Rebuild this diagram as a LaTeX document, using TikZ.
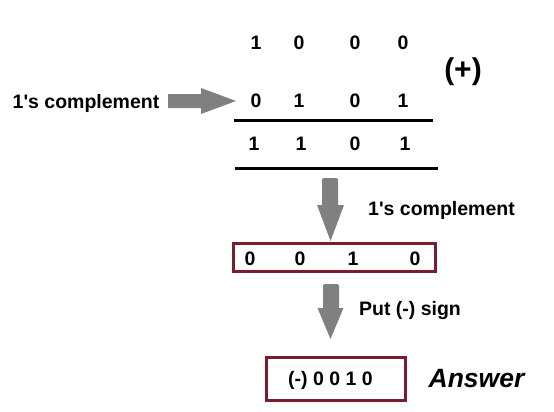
\documentclass[tikz,border=0pt]{standalone}
\usepackage{fontspec}
\setmainfont{Liberation Sans}[Ligatures=TeXOff]
\definecolor{arrowgray}{RGB}{128,128,128}
\definecolor{boxred}{RGB}{122,28,45}
\begin{document}
\begin{tikzpicture}[x=1pt,y=-1pt,
  txt/.style={inner sep=0pt,anchor=base,font=\fontsize{19.5}{22}\bfseries\selectfont},
  dig/.style={txt},
  bigarrow/.style={fill=arrowgray,draw=none},
  redbox/.style={draw=boxred,line width=3pt,inner sep=0pt},
  rule/.style={line width=3pt,black}]
\useasboundingbox (0,0) rectangle (554,412);
% rows of digits
\foreach \n/\x/\d in {a1/256/1,a2/299/0,a3/355/0,a4/403/0}
  \node[dig] (\n) at (\x,49) {\d};
\foreach \n/\x/\d in {b1/256/0,b2/299/1,b3/355/0,b4/403/1}
  \node[dig] (\n) at (\x,107) {\d};
\foreach \n/\x/\d in {c1/254/1,c2/301/1,c3/355/0,c4/405/1}
  \node[dig] (\n) at (\x,150) {\d};
\node[txt,font=\fontsize{30}{34}\bfseries\selectfont] (plus) at (463,80) {(+)};
% rules
\coordinate (l1a) at (234,120); \coordinate (l1b) at (433,120);
\coordinate (l2a) at (235,168); \coordinate (l2b) at (438,168);
\draw[rule] (l1a) -- (l1b);
\draw[rule] (l2a) -- (l2b);
% left label and arrow
\node[txt] (lc) at (86,108) {1's complement};
\fill[bigarrow] (168,94) -- (201,94) -- (201,88) -- (236,101) -- (201,114) -- (201,108) -- (168,108) -- cycle;
% arrow 1
\fill[bigarrow] (322,180) arc (180:270:2) -- (336,178) arc (270:360:2) -- (338,205) -- (344,205) -- (330.5,241) -- (317,205) -- (322,205) -- cycle;
\node[txt] (rc) at (441.5,215) {1's complement};
% box 1
\node[redbox,minimum width=202pt,minimum height=28pt] (box1) at (334.5,257.5) {};
\foreach \n/\x/\d in {d1/250/0,d2/300/0,d3/353/1,d4/415/0}
  \node[dig] (\n) at (\x,265) {\d};
% arrow 2
\fill[bigarrow] (323,286) arc (180:270:2) -- (337,284) arc (270:360:2) -- (339,308) -- (343.5,308) -- (330.5,339) -- (317.5,308) -- (323,308) -- cycle;
\node[txt] (put) at (410,315) {Put (-) sign};
% box 2
\node[redbox,minimum width=139pt,minimum height=43pt] (box2) at (336,379) {};
\node[txt] (ans) at (330.5,385) {(-) 0 0 1 0};
\node[txt,font=\fontsize{26.5}{30}\bfseries\itshape\selectfont] (answer) at (476.5,387) {Answer};
\end{tikzpicture}
\end{document}
